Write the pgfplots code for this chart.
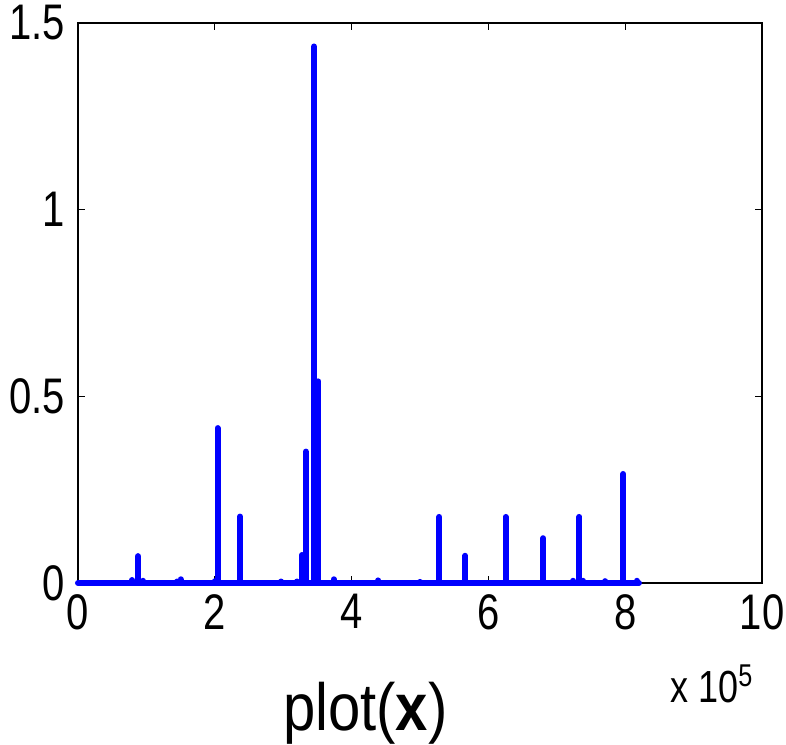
\documentclass[border=0pt]{standalone}
\usepackage{fontspec}
\setmainfont{Liberation Sans}
\usepackage{graphicx}
\usepackage{pgfplots}
\pgfplotsset{compat=1.18}
\newcommand{\tall}[1]{\scalebox{1}[1.25]{#1}}
\begin{document}
\begin{tikzpicture}
\begin{axis}[
  width=342pt, height=280pt, scale only axis,
  xmin=0, xmax=1000000, ymin=0, ymax=1.5,
  xtick={0,200000,400000,600000,800000,1000000},
  xticklabels={\tall{0},\tall{2},\tall{4},\tall{6},\tall{8},\tall{10}},
  scaled x ticks=false,
  ytick={0,0.5,1,1.5}, yticklabels={\tall{0},\tall{0.5},\tall{1},\tall{1.5}},
  tick align=inside, xtick pos=both, ytick pos=both,
  major tick length=3.5pt,
  tick style={black, line width=0.6pt},
  axis line style={black, line width=0.8pt},
  /pgf/number format/assume math mode=true,
  ticklabel style={font=\fontsize{20}{24}\selectfont},
  yticklabel style={xshift=-3pt},
  xticklabel style={yshift=-2pt},
  clip=false,
]
\addplot[color=blue, line width=3pt, line join=round, line cap=round] coordinates {
(0,0)
(79000,0)(79000,0.008)(79000,0)
(87700,0)(87700,0.072)(87700,0)
(95000,0)(95000,0.006)(95000,0)
(145000,0)(145000,0.004)(145000,0)
(150000,0)(150000,0.01)(150000,0)
(200000,0)(200000,0.005)(200000,0)
(204000,0)(204000,0.415)(204000,0)
(237000,0)(237000,0.178)(237000,0)
(297000,0)(297000,0.004)(297000,0)
(320000,0)(320000,0.004)(320000,0)
(327500,0)(327500,0.075)(327500,0)
(333000,0)(333000,0.352)(333000,0)
(345000,0)(345000,1.437)(345000,0)
(351500,0)(351500,0.54)(351500,0)
(374000,0)(374000,0.01)(374000,0)
(439000,0)(439000,0.007)(439000,0)
(500000,0)(500000,0.003)(500000,0)
(528000,0)(528000,0.177)(528000,0)
(566000,0)(566000,0.073)(566000,0)
(625000,0)(625000,0.177)(625000,0)
(680000,0)(680000,0.12)(680000,0)
(724000,0)(724000,0.006)(724000,0)
(733000,0)(733000,0.177)(733000,0)
(738000,0)(738000,0.006)(738000,0)
(771000,0)(771000,0.005)(771000,0)
(797000,0)(797000,0.292)(797000,0)
(817000,0)(817000,0.006)(817000,0)
(820000,0)
};
\node[anchor=base east, inner sep=0pt, font=\fontsize{18}{20}\selectfont] at (rel axis cs:0.988,-0.2125) {\tall{x 10\textsuperscript{5}}};
\node[anchor=base, inner sep=0pt, font=\fontsize{29}{34}\selectfont] at (rel axis cs:0.42,-0.2625) {\scalebox{1}[1.15]{plot(\textbf{x})}};
\coordinate (bl) at (rel axis cs:-0.114,-0.2875);
\coordinate (tr) at (rel axis cs:1.035,1.041);
\end{axis}
\pgfresetboundingbox
\useasboundingbox (bl) rectangle (tr);
\end{tikzpicture}
\end{document}
